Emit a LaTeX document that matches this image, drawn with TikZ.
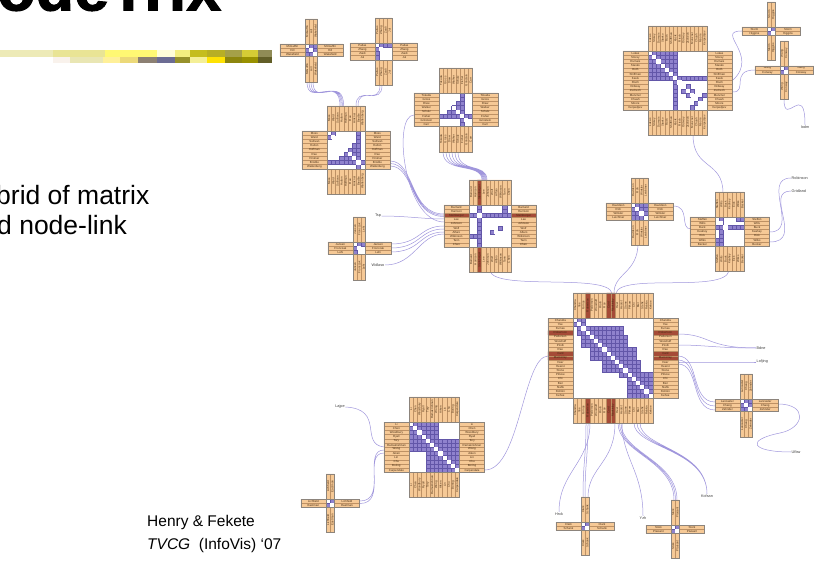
\documentclass[tikz,border=0pt]{standalone}
\usepackage{fontspec}
\setmainfont{Liberation Sans}
\newfontfamily\titlefont{Liberation Sans}[FakeBold=1.5]
\usetikzlibrary{calc}
\definecolor{lblorange}{RGB}{246,201,150}
\definecolor{lblline}{RGB}{190,145,100}
\definecolor{lbltext}{RGB}{70,45,20}
\definecolor{frame}{RGB}{140,132,124}
\definecolor{cellpurple}{RGB}{143,130,205}
\definecolor{cellline}{RGB}{98,86,168}
\definecolor{hlred}{RGB}{165,75,55}
\definecolor{linkcol}{RGB}{160,150,220}
\tikzset{
  lblfill/.style={fill=lblorange},
  hlfill/.style={fill=hlred},
  lblcell/.style={draw=lblline, line width=0.25pt},
  lbltxt/.style={inner sep=0pt, text=lbltext, font=\fontsize{2.9}{3}\selectfont},
  cellp/.style={fill=cellpurple, draw=cellline, line width=0.25pt},
  outline/.style={draw=frame, line width=0.5pt},
  link/.style={draw=linkcol, line width=0.5pt},
  freelbl/.style={inner sep=0.5pt, text=black!75, font=\fontsize{3.8}{4}\selectfont},
}
% one NodeTrix cluster: x, y (top left of matrix), size, purple cells, highlighted, names
\newcommand{\ntcluster}[6]{%
  \begin{scope}[shift={(#1,#2)}, x=4.2pt, y=-4.2pt]
    % label arms
    \fill[lblfill] (-6,0) rectangle (0,#3) (#3,0) rectangle (#3+6,#3)
      (0,-6) rectangle (#3,0) (0,#3) rectangle (#3,#3+6);
    \foreach \h in {#5} {\ifnum\h>0
      \fill[hlfill] (-6,\h-1) rectangle (0,\h) (#3,\h-1) rectangle (#3+6,\h)
        (\h-1,-6) rectangle (\h,0) (\h-1,#3) rectangle (\h,#3+6);
    \fi}
    \foreach \nm [count=\i] in {#6} {
      \draw[lblcell] (-6,\i-1) rectangle (0,\i) (#3,\i-1) rectangle (#3+6,\i)
        (\i-1,-6) rectangle (\i,0) (\i-1,#3) rectangle (\i,#3+6);
      \node[lbltxt] at (-3,\i-0.5) {\nm};
      \node[lbltxt] at (#3+3,\i-0.5) {\nm};
      \node[lbltxt, rotate=90] at (\i-0.5,-3) {\nm};
      \node[lbltxt, rotate=90] at (\i-0.5,#3+3) {\nm};
    }
    % matrix
    \fill[white] (0,0) rectangle (#3,#3);
    \foreach \ra/\ca/\rb/\cb in {#4} {
      \foreach \ri in {\ra,...,\rb} {
        \foreach \cj in {\ca,...,\cb} {
          \filldraw[cellp] (\cj-1,\ri-1) rectangle (\cj,\ri);
        }
      }
    }
    \foreach \k in {1,...,#3} {\fill[white] (\k-1,\k-1) rectangle (\k,\k);}
    \draw[outline] (-6,0) -| (0,-6) -| (#3,0) -| (#3+6,#3) -| (#3,#3+6)
      -| (0,#3) -- (-6,#3) -- cycle;
    \draw[outline] (0,0) rectangle (#3,#3);
  \end{scope}}

\begin{document}
\begin{tikzpicture}[x=1pt, y=-1pt]
\useasboundingbox (0,0) rectangle (814,564);
\clip (0,0) rectangle (814,564);

% slide title and rule
\node[anchor=base west, inner sep=0pt, font=\titlefont\bfseries\fontsize{63}{63}\selectfont] (title) at (-3,10.5) {odeTrix};
\foreach \xa/\xb/\cl in {0/53/yellow!25!white!92!black, 53/105/yellow!40!white!90!black,
    105/157/yellow!55!white, 157/175/yellow!15!white, 175/190/yellow!50!white!95!black,
    190/207/olive!60!yellow!85!white, 207/225/olive!80!yellow!80!white,
    225/242/olive!70!gray!80!white, 242/258/olive!50!yellow!75!white, 258/272/gray!60!olive}
  {\fill[fill=\cl] (\xa,50) rectangle (\xb,57);}
\foreach \xa/\xb/\cl in {53/70/brown!10!white, 70/103/yellow!25!white!90!black,
    103/120/orange!30!yellow!40!white, 120/138/brown!50!yellow!60!white, 138/157/gray!80!brown,
    157/175/gray!85!blue, 175/190/olive!80!white!90!black, 190/207/yellow!40!white!95!black,
    207/225/yellow!85!orange, 225/242/olive!90!yellow!90!black, 242/258/olive!90!yellow,
    258/272/olive!60!black}
  {\fill[fill=\cl] (\xa,57) rectangle (\xb,63);}

% slide text
\node[anchor=base west, inner sep=0pt, font=\fontsize{26.5}{30}\selectfont] (hyb1) at (-4,205) {brid of matrix};
\node[anchor=base west, inner sep=0pt, font=\fontsize{26.5}{30}\selectfont] (hyb2) at (-3,235) {d node-link};
\node[anchor=base west, inner sep=0pt, font=\fontsize{15.5}{18}\selectfont] (ref1) at (147,526) {Henry \& Fekete};
\node[anchor=base west, inner sep=0pt, font=\fontsize{15.5}{18}\selectfont] (ref2) at (147,549) {\textit{TVCG}\ \ (InfoVis) `07};

% free labels
\node[freelbl] (tsp) at (378,216) {Tsp};
\node[freelbl] (wd) at (378,265) {Wdlaso};
\node[freelbl, anchor=west] (rob) at (791,178) {Robinson};
\node[freelbl, anchor=west] (grd) at (791,191) {Gridland};
\node[freelbl] (iod) at (805,127) {Iodm};
\node[freelbl, anchor=west] (bdn) at (756,348) {Bdne};
\node[freelbl, anchor=west] (lof) at (756,362) {Lofjing};
\node[freelbl, anchor=west] (ufb) at (791,452) {Ufbw};
\node[freelbl] (kof) at (707,496) {Kofsan};
\node[freelbl] (yzh) at (643,518) {Yzh};
\node[freelbl] (hrx) at (559,514) {Hrxk};
\node[freelbl] (laj) at (340,407) {Lajpe};

% link end points
\foreach \nm/\xy in {As/{307,82}, Cn1/{340,106}, Bs/{380,85}, Cn2/{356,106}, Ce/{390,161},
    Hw1/{444,214}, Dw/{414,115}, Hw2/{444,222}, Ds/{443,152}, Hn/{482,180}, Ie/{391,244},
    Hw3/{444,226}, Hw4/{444,219}, Hw5/{444,234}, Es/{693,135}, Kn/{723,193}, Fw/{742,31},
    Ee1/{733,80}, Gw/{755,70}, Ee2/{733,92}, Gs/{784,99}, Je/{673,206}, Kw/{691,229},
    Ke1/{770,232}, Ke2/{770,242}, Hs/{490,271}, Ln1/{612,293}, Ln2/{616,293}, Ks/{729,271},
    Js/{638,243}, Ln3/{614,293}, Le1/{678,334}, Le2/{678,345}, Le3/{678,362}, Le4/{678,356},
    Ow/{715,402}, Oe/{778,404}, Lw/{548,356}, Me/{485,470}, Mw1/{384,447}, Ne/{360,501},
    Mw2/{384,450}, Ls1/{586,423}, P1n1/{583,497}, Ls2/{590,423}, Ls3/{615,423},
    P1n2/{588,497}, Ls4/{618,423}, P2n/{674,500}, Ls5/{622,423}, Ls6/{634,423}}
  {\coordinate (\nm) at (\xy);}

% links
\draw[link] foreach \d in {0,2,4,6} {($(As)+(\d,0)$) .. controls +(0,26) and +(0,-32) .. ($(Cn1)+(0.6*\d,0)$)};
\draw[link] foreach \d in {0,2} {($(Bs)+(\d,0)$) .. controls +(0,22) and +(0,-22) .. ($(Cn2)+(\d,0)$)};
\draw[link] foreach \d in {0,2.5,5} {($(Ce)+(0,\d)$) .. controls +(25,0) and +(-35,0) .. ($(Hw1)+(0,0.5*\d)$)};
\draw[link] (Dw) .. controls +(-22,0) and +(-40,0) .. (Hw2);
\draw[link] foreach \d in {0,1,2,3,4,5} {($(Ds)+(3*\d,0)$) .. controls +(0,22) and +(0,-18) .. ($(Hn)+(\d,0)$)};
\draw[link] foreach \d in {0,1,2} {($(Ie)+(0,4*\d)$) .. controls +(30,0) and +(-25,0) .. ($(Hw3)+(0,3*\d)$)};
\draw[link] (tsp.east) .. controls +(25,0) and +(-20,0) .. (Hw4);
\draw[link] (wd.east) .. controls +(30,0) and +(-25,0) .. (Hw5);
\draw[link] (Es) .. controls +(0,35) and +(0,-33) .. (Kn);
\draw[link] (Fw) .. controls +(-28,0) and +(27,-25) .. (Ee1);
\draw[link] (Gw) .. controls +(-25,0) and +(15,0) .. (Ee2);
\draw[link] (Gs) .. controls +(0,30) and +(0,-45) .. (iod.north);
\draw[link] (Je) .. controls +(18,0) and +(-12,0) .. (Kw);
\draw[link] (Ke1) .. controls +(30,0) and +(-30,0) .. (rob.west);
\draw[link] (Ke2) .. controls +(35,0) and +(-28,0) .. (grd.west);
\draw[link] (Hs) .. controls +(5,20) and +(-5,-20) .. (Ln1);
\draw[link] (Ln2) .. controls +(5,-20) and +(-5,22) .. (Ks);
\draw[link] (Js) .. controls +(0,30) and +(0,-20) .. (Ln3);
\draw[link] (Le1) .. controls +(32,0) and +(-50,0) .. (bdn.west);
\draw[link] (Le2) .. controls +(27,0) and +(-40,0) .. (bdn.west);
\draw[link] (Le3) .. controls +(32,0) and +(-35,0) .. (lof.west);
\draw[link] foreach \d in {0,1,2} {($(Le4)+(0,4*\d)$) .. controls +(22,0) and +(-25,0) .. ($(Ow)+(0,4*\d)$)};
\draw[link] (Oe) .. controls +(30,0) and +(25,-5) .. (780,433) .. controls +(-35,7) and +(-40,0) .. (ufb.west);
\draw[link] (Lw) .. controls +(-25,0) and +(35,0) .. (Me);
\draw[link] (laj.east) .. controls +(40,2) and +(-25,-3) .. (Mw1);
\draw[link] foreach \d in {0,1} {($(Ne)+(0,2.5*\d)$) .. controls +(28,0) and +(-22,0) .. ($(Mw2)+(0,3*\d)$)};
\draw[link] foreach \d in {0,2} {($(Ls1)+(\d,0)$) .. controls +(0,35) and +(0,-35) .. ($(P1n1)+(\d,0)$)};
\draw[link] (Ls2) .. controls +(0,40) and +(0,-40) .. (hrx.north);
\draw[link] (Ls3) .. controls +(0,40) and +(0,-30) .. (P1n2);
\draw[link] foreach \d in {0,1.5,3} {($(Ls4)+(\d,0)$) .. controls +(0,30) and +(0,-40) .. ($(P2n)+(\d,0)$)};
\draw[link] (Ls5) .. controls +(0,35) and +(0,-45) .. (yzh.north);
\draw[link] foreach \d in {0,3,6} {($(Ls6)+(\d,0)$) .. controls +(0,25) and +(0,-45) .. (kof.north)};

% clusters
\ntcluster{305}{44}{3}{1/1/3/3}{0}{McGuffin,Hill,Wakefield}
\ntcluster{375}{43}{4}{1/1/1/4,2/1/4/1}{0}{Pallas,Zhang,Zaidi,Jul}
\ntcluster{327}{131}{9}{1/2/1/2,2/1/2/1,1/8/9/8,8/1/8/9,4/7/4/7,5/6/5/7,6/5/6/7,7/4/7/7}{0}{Moss,Ward,Sullivan,Hulton,Hoffman,Rao,Hinkner,Brodlie,Wallenberg}
\ntcluster{439}{93}{8}{1/6/8/6,6/1/6/8,3/5/3/5,4/4/4/5,5/3/5/5}{0}{Tokuda,Gross,Drew,Walker,Schulz,Fisher,Grinstein,Carr}
\ntcluster{648}{51}{14}{1/1/7/7,7/8/7/14,8/7/14/7,9/10/9/10,10/9/10/9,10/11/10/11,11/10/11/10,11/14/11/14,12/13/12/13,13/12/13/12,14/11/14/11}{0}{Lukas,Storey,Dumais,Stasko,Roth,Shiffman,Kasik,Risch,Ordway,Zschech,Munzner,Chuah,Moore,Kerpedjiev}
\ntcluster{767}{27}{2}{1/1/2/2}{0}{Storm,Higgins}
\ntcluster{780}{66}{2}{1/1/2/2}{0}{Wang,Conway}
\ntcluster{469}{205}{10}{3/1/3/10,1/3/10/3,1/9/2/9,8/1/8/2,6/8/6/8,7/6/7/6}{3}{Barnard,Harrison,Steinberger,Lee,Johnson,Wolf,Alfaro,Wilkinson,Tarin,Chen}
\ntcluster{353}{242}{3}{1/1/1/3,2/1/3/1}{0}{Jansen,Fronczak,Lehi}
\ntcluster{631}{203}{4}{1/1/4/4}{0}{Davidson,Roh,Winkler,Leichtner}
\ntcluster{715}{217}{7}{1/2/7/2,3/1/3/7,1/6/1/7,6/1/7/2}{0}{Steffen,Wills,Buck,Keahey,Eick,Wilks,Becker}
\ntcluster{573}{318}{19}{1/1/2/3,3/2/4/12,5/3/7/13,8/5/10/15,11/8/13/16,12/12/14/16,14/14/19/19}{4,9,10}{Chandra,Yee,Furnas,Robertson,Pedersen,Woodruff,Pirolli,Rao,Card,Mackinlay,Heer,Hearst,Stone,Pitkow,Chi,Bier,Stefik,Fishkin,Kehoe}
\ntcluster{409}{422}{12}{1/1/4/7,5/1/7/12,8/5/12/12}{0}{Li,Chen,Woodbury,Ryall,Tory,Ramakrishnan,Wong,Aiken,Lin,Chu,Boring,Carpendale}
\ntcluster{326}{499}{2}{1/1/2/2}{0}{Lichfield,Eastman}
\ntcluster{740}{399}{3}{1/1/3/3}{0}{Lancaster,Chang,Zehnder}
\ntcluster{581}{522}{2}{1/1/2/2}{0}{Clark,Schank}
\ntcluster{671}{525}{2}{1/1/2/2}{0}{Stork,Plaisant}
\end{tikzpicture}
\end{document}
